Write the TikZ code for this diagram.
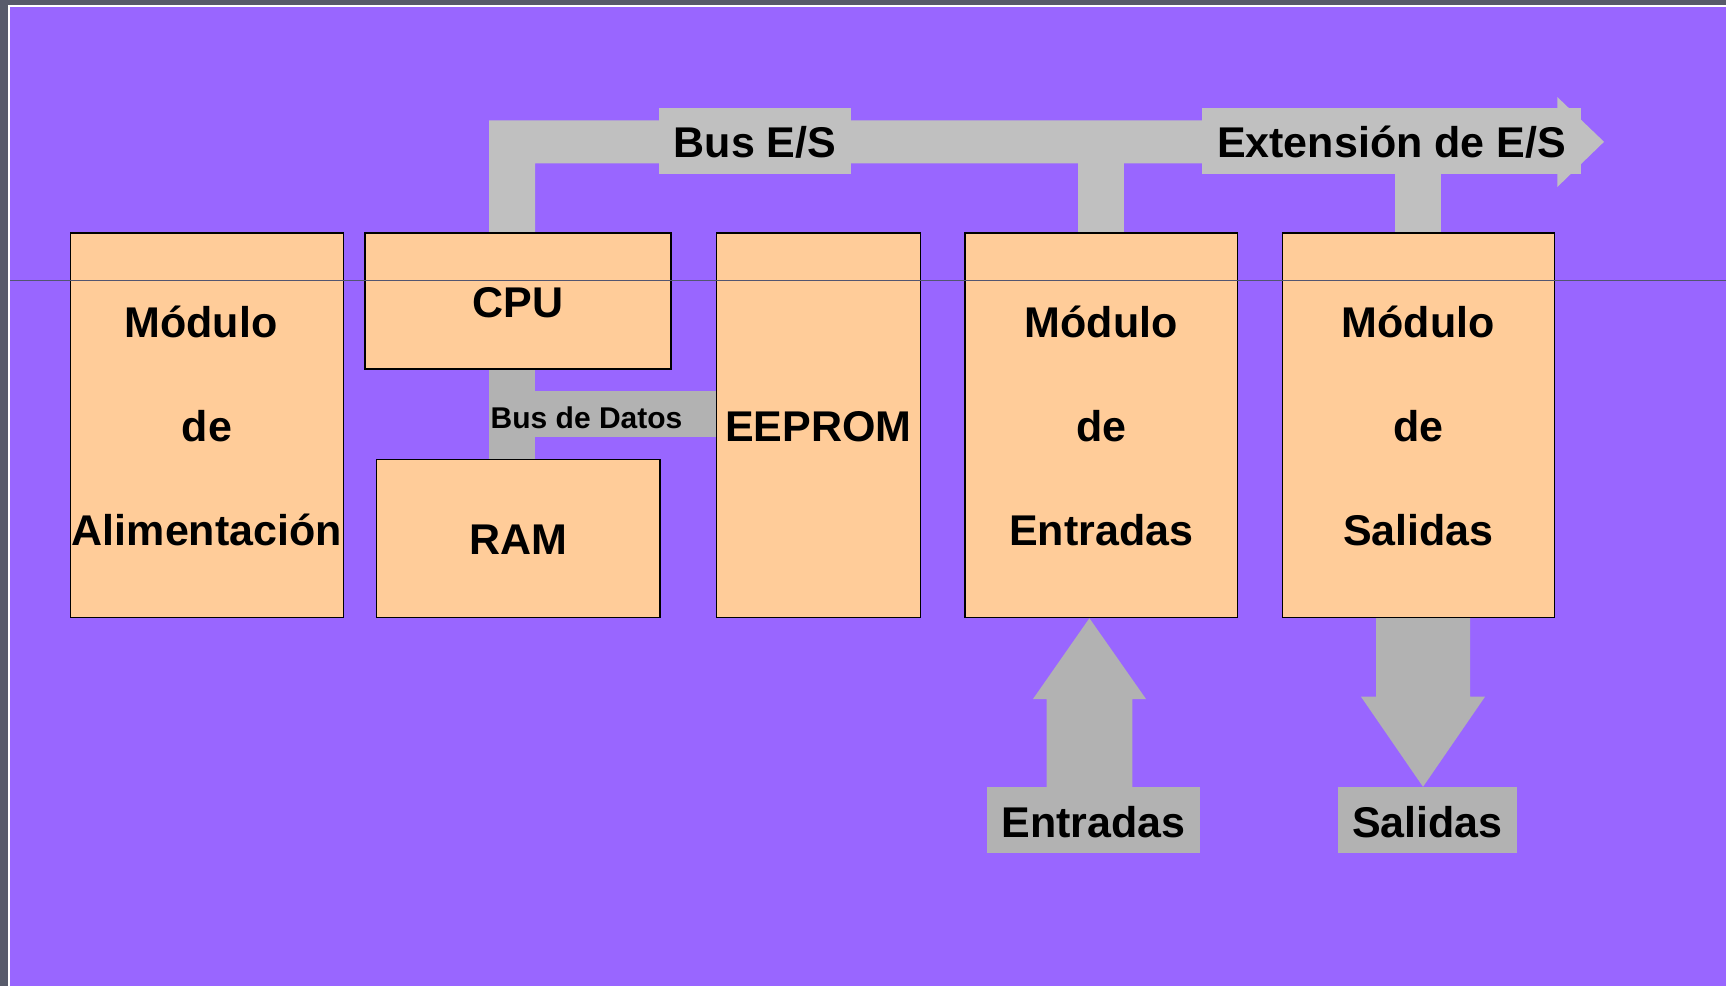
\documentclass[tikz,border=0pt]{standalone}
\usepackage{fontspec}
\setmainfont{Liberation Sans}
\usetikzlibrary{calc}

\definecolor{bg}{HTML}{9966FF}
\definecolor{framegray}{HTML}{585B6B}
\definecolor{peach}{HTML}{FFCC99}
\definecolor{busgray}{HTML}{C0C0C0}
\definecolor{iogray}{HTML}{B2B2B2}
\definecolor{rulegray}{HTML}{525570}

\begin{document}
\begin{tikzpicture}[x=1pt,y=-1pt,
  module/.style={draw=black, line width=1.2pt, fill=peach, inner sep=0pt,
                 anchor=north west},
  bigtext/.style={font=\fontsize{43}{43}\selectfont\bfseries, inner sep=0pt,
                  anchor=base},
  smalltext/.style={font=\fontsize{30}{30}\selectfont\bfseries, inner sep=0pt,
                    anchor=base west},
  tag/.style={font=\fontsize{43}{43}\selectfont\bfseries, inner sep=0pt,
              text height=34pt, text depth=0pt, minimum height=66pt},
  bustag/.style={tag, fill=busgray},
  iotag/.style={tag, fill=iogray}]

% page frame and background
\useasboundingbox (0,0) rectangle (1726,986);
\fill[framegray] (0,0) rectangle (1726,986);
\fill[white] (8,5) rectangle (1726,986);
\fill[bg] (10,6.7) rectangle (1726,986);

% I/O bus with its arrow head and the drops to the modules
\fill[busgray] (489,232.3) -- (489,120.3) -- (1557.3,120.3) -- (1557.3,97)
  -- (1604,141.8) -- (1557.3,187) -- (1557.3,163.3) -- (535,163.3)
  -- (535,232.3) -- cycle;
\fill[busgray] (1078,163.3) rectangle (1123.7,232.3);
\fill[busgray] (1395,163.3) rectangle (1441,232.3);

% data bus between CPU, RAM and EEPROM
\fill[iogray] (489,368.3) rectangle (535,459);
\fill[iogray] (535,391) rectangle (715.7,436.7);

% modules
\node[module, minimum width=272.5pt, minimum height=384.7pt] (alim) at (70,232.3) {};
\node[module, minimum width=306pt, minimum height=136pt] (cpu) at (364.3,232.3) {};
\node[module, minimum width=283.5pt, minimum height=158.3pt] (ram) at (375.8,458.7) {};
\node[module, minimum width=204pt, minimum height=384.7pt] (eeprom) at (715.7,232.3) {};
\node[module, minimum width=272.4pt, minimum height=384.7pt] (ent) at (964.3,232.3) {};
\node[module, minimum width=272pt, minimum height=384.7pt] (sal) at (1281.7,232.3) {};

% guide rule
\draw[rulegray, line width=1pt] (10,280) -- (1726,280);

% module texts
\node[bigtext, xshift=-6pt] at (alim.center |- 0,337.3) {Módulo};
\node[bigtext] at (alim.center |- 0,441) {de};
\node[bigtext] at (alim.center |- 0,545) {Alimentación};

\node[bigtext] at (cpu.center |- 0,317.3) {CPU};
\node[bigtext] at (ram.center |- 0,554.3) {RAM};
\node[bigtext] at (eeprom.center |- 0,441) {EEPROM};

\node[bigtext] at (ent.center |- 0,337.3) {Módulo};
\node[bigtext] at (ent.center |- 0,441) {de};
\node[bigtext] at (ent.center |- 0,545) {Entradas};

\node[bigtext] at (sal.center |- 0,337.3) {Módulo};
\node[bigtext] at (sal.center |- 0,441) {de};
\node[bigtext] at (sal.center |- 0,545) {Salidas};

\node[smalltext] (datos) at (490.5,428.3) {Bus de Datos};

% bus labels
\node[bustag, minimum width=192pt] (buses) at (755,140.7) {Bus E/S};
\node[bustag, minimum width=379pt] (ext) at (1391.5,140.7) {Extensión de E/S};

% field inputs and outputs
\node[iotag, minimum width=213pt] (entlab) at (1093.5,820) {Entradas};
\node[iotag, minimum width=179pt] (sallab) at (1427.5,820) {Salidas};

\fill[iogray] (1046.5,0 |- entlab.north) -- (1046.5,699) -- (1033,699)
  -- (1089.4,0 |- ent.south) -- (1146,699) -- (1132.3,699)
  -- (1132.3,0 |- entlab.north) -- cycle;
\fill[iogray] (1376,0 |- sal.south) -- (1376,696.7) -- (1361,696.7)
  -- (1423,0 |- sallab.north) -- (1485,696.7) -- (1470,696.7)
  -- (1470,0 |- sal.south) -- cycle;
\end{tikzpicture}
\end{document}
